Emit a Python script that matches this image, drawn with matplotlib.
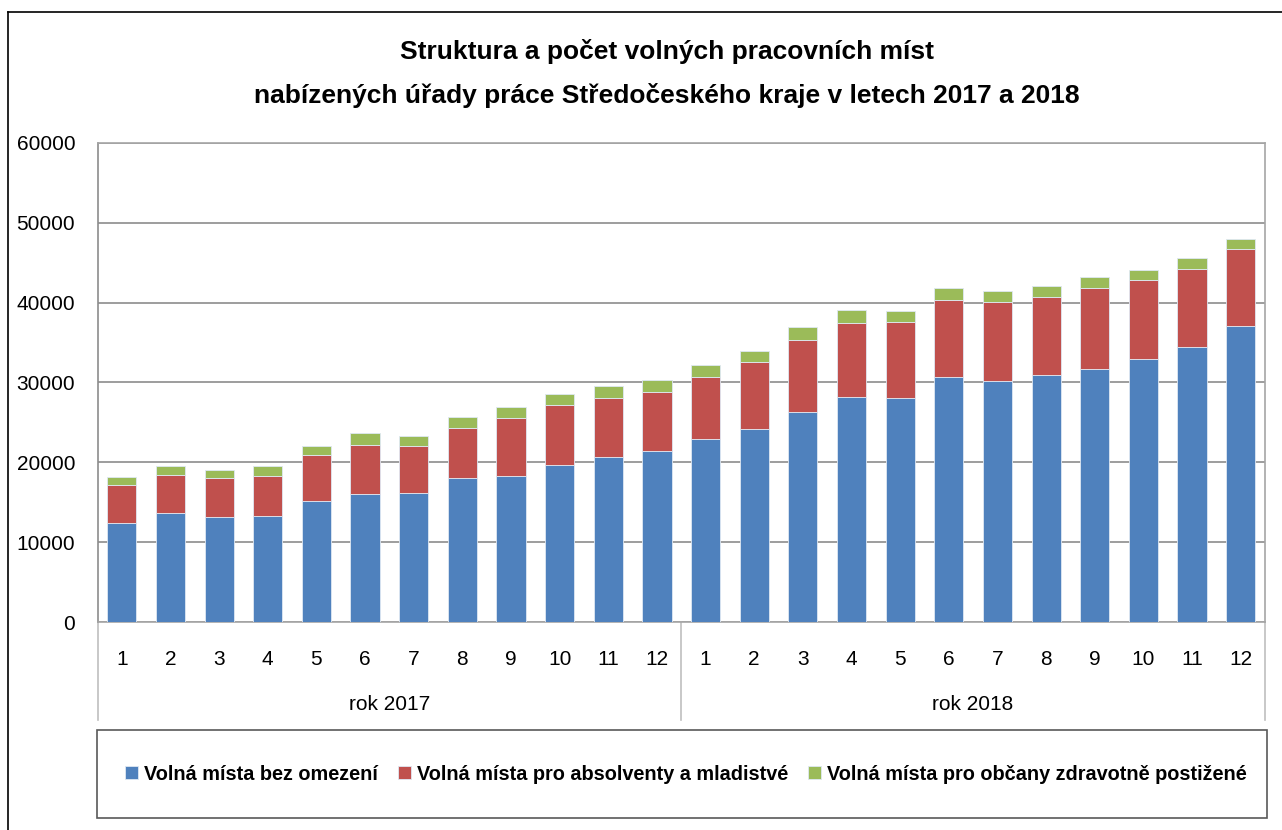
import matplotlib
matplotlib.use("Agg")
import matplotlib.pyplot as plt
import numpy as np
from matplotlib.lines import Line2D
from matplotlib.patches import Rectangle
import matplotlib.transforms as mtransforms

plt.rcParams['font.family'] = ['Liberation Sans', 'DejaVu Sans']

months = [str(m) for m in range(1, 13)] * 2
years = ["rok 2017", "rok 2018"]
series_names = ["Volná místa bez omezení",
                "Volná místa pro absolventy a mladistvé",
                "Volná místa pro občany zdravotně postižené"]

# cumulative tops
blue_top = [12380, 13630, 13170, 13340, 15120, 16080, 16200, 17990, 18280, 19610, 20610, 21400,
            22960, 24210, 26290, 28210, 28080, 30710, 30130, 30960, 31670, 32920, 34420, 37040]
red_top = [17160, 18400, 17990, 18280, 20860, 22230, 22100, 24300, 25550, 27170, 28040, 28830,
           30670, 32630, 35380, 37420, 37580, 40330, 40040, 40710, 41830, 42790, 44170, 46670]
green_top = [18110, 19530, 18990, 19530, 22100, 23640, 23350, 25680, 26920, 28540, 29540, 30310,
             32170, 34000, 37000, 39080, 38960, 41830, 41420, 42080, 43210, 44040, 45540, 48000]

bez_omezeni = np.array(blue_top)
absolventi = np.array(red_top) - np.array(blue_top)
postizeni = np.array(green_top) - np.array(red_top)

colours = ["#4F81BD", "#C0504D", "#9BBB59"]

fig = plt.figure(figsize=(12.82, 8.3), dpi=100)
ax = fig.add_axes([97.5/1282, 1-622/830, (1265-97.5)/1282, 479/830])

x = np.arange(len(months))
bottom = np.zeros(len(x))
for vals, col, name in zip([bez_omezeni, absolventi, postizeni], colours, series_names):
    ax.bar(x, vals, width=0.6, bottom=bottom, color=col, edgecolor="#dfe8f3", linewidth=0.6,
           label=name, zorder=3)
    bottom = bottom + vals

ax.set_xlim(-0.5, len(x) - 0.5)
ax.set_ylim(0, 60000)
ax.set_yticks(range(0, 60001, 10000))
ax.yaxis.grid(True, color="#8c8c8c", linewidth=1.2, zorder=0)
ax.tick_params(axis='y', length=0, pad=16, labelsize=15)
for s in ["left", "right", "bottom", "top"]:
    ax.spines[s].set_color("#a6a6a6")
    ax.spines[s].set_linewidth(1.2)
ax.spines["left"].set_color("#8c8c8c")

ax.set_xticks(x)
ax.set_xticklabels(months, fontsize=15)
ax.tick_params(axis='x', length=0, pad=20)

# year group separators and labels
trans = mtransforms.blended_transform_factory(ax.transData, ax.transAxes)
for xs in [-0.5, 11.5, 23.5]:
    ax.add_line(Line2D([xs, xs], [0, -98/479], transform=trans, color="#bfbfbf",
                       linewidth=1.2, clip_on=False))
for i, yr in enumerate(years):
    ax.text(i*12 + 5.5, -82/479, yr, transform=trans, ha="center", va="center", fontsize=15)

# title
fig.text(667/1282, 1-52/830, "Struktura a počet volných pracovních míst", ha="center", va="center",
         fontsize=19, fontweight="bold")
fig.text(667/1282, 1-95/830, "nabízených úřady práce Středočeského kraje v letech 2017 a 2018",
         ha="center", va="center", fontsize=19, fontweight="bold")

# legend box
fig.add_artist(Rectangle((97/1282, 1-818/830), 1170/1282, 88/830, transform=fig.transFigure,
                         fill=False, edgecolor="#595959", linewidth=1.2))
handles, labels = ax.get_legend_handles_labels()
leg = fig.legend(handles, labels, loc="center", bbox_to_anchor=(686/1282, 1-774/830), ncol=3,
                 frameon=False, prop={"weight": "bold", "size": 14.3}, handlelength=0.65,
                 handleheight=0.65, handletextpad=0.3, columnspacing=1.0)

# outer chart border
fig.add_artist(Line2D([8/1282, 8/1282], [0, 1-12/830], transform=fig.transFigure, color="black", linewidth=1.2))
fig.add_artist(Line2D([8/1282, 1], [1-12/830, 1-12/830], transform=fig.transFigure, color="black", linewidth=1.2))

fig.savefig("out.png", dpi=100)
